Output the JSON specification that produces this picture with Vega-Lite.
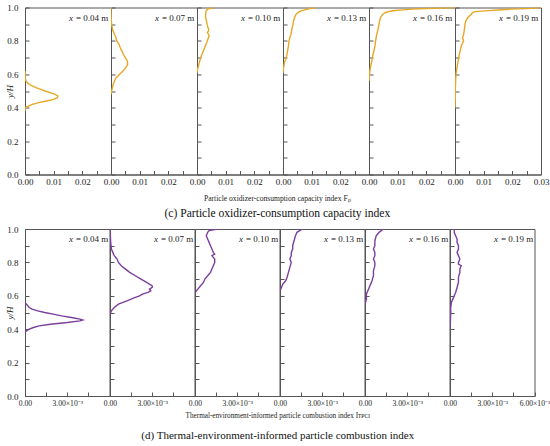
{
  "$schema": "https://vega.github.io/schema/vega-lite/v6.json",
  "autosize": {"type": "pad"},
  "padding": {"left": 5, "top": 2.5, "right": 0, "bottom": 0},
  "spacing": 4.5,
  "config": {
    "font": "Liberation Serif",
    "view": {"stroke": "#555555", "strokeWidth": 1},
    "axis": {
      "grid": false, "domainColor": "#555555", "tickColor": "#555555", "tickSize": -4,
      "labelFont": "Liberation Serif", "labelFontSize": 9, "labelColor": "#222222", "labelPadding": 7,
      "labelOverlap": false, "labelFlush": false, "labelBound": false,
      "titleFont": "Liberation Serif", "titleFontWeight": "normal", "titleColor": "#222222"
    },
    "axisY": {"labelPadding": 11},
    "text": {"font": "Liberation Serif", "fontSize": 9, "color": "#222222", "align": "left", "baseline": "middle"}
  },
  "datasets": {
    "c": [
      {"p": "0.04", "y": 0.38, "v": 0}, {"p": "0.04", "y": 0.40, "v": 0.0001}, {"p": "0.04", "y": 0.41, "v": 0.0012},
      {"p": "0.04", "y": 0.42, "v": 0.0025}, {"p": "0.04", "y": 0.43, "v": 0.0048}, {"p": "0.04", "y": 0.44, "v": 0.0075},
      {"p": "0.04", "y": 0.45, "v": 0.0100}, {"p": "0.04", "y": 0.46, "v": 0.0113}, {"p": "0.04", "y": 0.47, "v": 0.0115},
      {"p": "0.04", "y": 0.48, "v": 0.0105}, {"p": "0.04", "y": 0.49, "v": 0.0088}, {"p": "0.04", "y": 0.50, "v": 0.0070},
      {"p": "0.04", "y": 0.51, "v": 0.0055}, {"p": "0.04", "y": 0.52, "v": 0.0038}, {"p": "0.04", "y": 0.53, "v": 0.0025},
      {"p": "0.04", "y": 0.54, "v": 0.0015}, {"p": "0.04", "y": 0.55, "v": 0.0008}, {"p": "0.04", "y": 0.56, "v": 0.0003},
      {"p": "0.04", "y": 0.58, "v": 0.0001}, {"p": "0.04", "y": 0.62, "v": 0},

      {"p": "0.07", "y": 0.48, "v": 0}, {"p": "0.07", "y": 0.50, "v": 0.0002}, {"p": "0.07", "y": 0.52, "v": 0.0005},
      {"p": "0.07", "y": 0.54, "v": 0.0008}, {"p": "0.07", "y": 0.56, "v": 0.0012}, {"p": "0.07", "y": 0.58, "v": 0.0018},
      {"p": "0.07", "y": 0.60, "v": 0.0030}, {"p": "0.07", "y": 0.62, "v": 0.0042}, {"p": "0.07", "y": 0.64, "v": 0.0052},
      {"p": "0.07", "y": 0.66, "v": 0.0058}, {"p": "0.07", "y": 0.68, "v": 0.0057}, {"p": "0.07", "y": 0.70, "v": 0.0050},
      {"p": "0.07", "y": 0.72, "v": 0.0043}, {"p": "0.07", "y": 0.74, "v": 0.0038}, {"p": "0.07", "y": 0.76, "v": 0.0032},
      {"p": "0.07", "y": 0.78, "v": 0.0028}, {"p": "0.07", "y": 0.80, "v": 0.0020}, {"p": "0.07", "y": 0.82, "v": 0.0017},
      {"p": "0.07", "y": 0.84, "v": 0.0012}, {"p": "0.07", "y": 0.86, "v": 0.0007}, {"p": "0.07", "y": 0.88, "v": 0.0004},
      {"p": "0.07", "y": 0.90, "v": 0.0002}, {"p": "0.07", "y": 0.93, "v": 0.0001}, {"p": "0.07", "y": 0.96, "v": 0},
      {"p": "0.07", "y": 1.00, "v": 0},

      {"p": "0.10", "y": 0.61, "v": 0}, {"p": "0.10", "y": 0.63, "v": 0.0002}, {"p": "0.10", "y": 0.65, "v": 0.0005},
      {"p": "0.10", "y": 0.67, "v": 0.0008}, {"p": "0.10", "y": 0.70, "v": 0.0013}, {"p": "0.10", "y": 0.73, "v": 0.0020},
      {"p": "0.10", "y": 0.76, "v": 0.0027}, {"p": "0.10", "y": 0.79, "v": 0.0034}, {"p": "0.10", "y": 0.81, "v": 0.0038},
      {"p": "0.10", "y": 0.83, "v": 0.0042}, {"p": "0.10", "y": 0.84, "v": 0.0040}, {"p": "0.10", "y": 0.85, "v": 0.0036},
      {"p": "0.10", "y": 0.86, "v": 0.0040}, {"p": "0.10", "y": 0.87, "v": 0.0041}, {"p": "0.10", "y": 0.88, "v": 0.0038},
      {"p": "0.10", "y": 0.90, "v": 0.0035}, {"p": "0.10", "y": 0.92, "v": 0.0033}, {"p": "0.10", "y": 0.94, "v": 0.0030},
      {"p": "0.10", "y": 0.96, "v": 0.0030}, {"p": "0.10", "y": 0.98, "v": 0.0032}, {"p": "0.10", "y": 0.99, "v": 0.0037},
      {"p": "0.10", "y": 1.00, "v": 0.0060},

      {"p": "0.13", "y": 0.61, "v": 0}, {"p": "0.13", "y": 0.63, "v": 0.0001}, {"p": "0.13", "y": 0.65, "v": 0.0003},
      {"p": "0.13", "y": 0.67, "v": 0.0005}, {"p": "0.13", "y": 0.69, "v": 0.0009}, {"p": "0.13", "y": 0.71, "v": 0.0013},
      {"p": "0.13", "y": 0.74, "v": 0.0016}, {"p": "0.13", "y": 0.77, "v": 0.0019}, {"p": "0.13", "y": 0.80, "v": 0.0021},
      {"p": "0.13", "y": 0.82, "v": 0.0024}, {"p": "0.13", "y": 0.84, "v": 0.0028}, {"p": "0.13", "y": 0.86, "v": 0.0030},
      {"p": "0.13", "y": 0.88, "v": 0.0032}, {"p": "0.13", "y": 0.90, "v": 0.0035}, {"p": "0.13", "y": 0.92, "v": 0.0037},
      {"p": "0.13", "y": 0.94, "v": 0.0040}, {"p": "0.13", "y": 0.96, "v": 0.0046}, {"p": "0.13", "y": 0.97, "v": 0.0052},
      {"p": "0.13", "y": 0.98, "v": 0.0063}, {"p": "0.13", "y": 0.99, "v": 0.0085}, {"p": "0.13", "y": 1.00, "v": 0.0113},

      {"p": "0.16", "y": 0.56, "v": 0}, {"p": "0.16", "y": 0.58, "v": 0.0001}, {"p": "0.16", "y": 0.60, "v": 0.0002},
      {"p": "0.16", "y": 0.62, "v": 0.0003}, {"p": "0.16", "y": 0.65, "v": 0.0006}, {"p": "0.16", "y": 0.68, "v": 0.0010},
      {"p": "0.16", "y": 0.71, "v": 0.0013}, {"p": "0.16", "y": 0.74, "v": 0.0017}, {"p": "0.16", "y": 0.77, "v": 0.0021},
      {"p": "0.16", "y": 0.80, "v": 0.0023}, {"p": "0.16", "y": 0.83, "v": 0.0026}, {"p": "0.16", "y": 0.86, "v": 0.0030},
      {"p": "0.16", "y": 0.89, "v": 0.0034}, {"p": "0.16", "y": 0.92, "v": 0.0037}, {"p": "0.16", "y": 0.94, "v": 0.0040},
      {"p": "0.16", "y": 0.96, "v": 0.0048}, {"p": "0.16", "y": 0.97, "v": 0.0058}, {"p": "0.16", "y": 0.976, "v": 0.0070},
      {"p": "0.16", "y": 0.982, "v": 0.0090}, {"p": "0.16", "y": 0.986, "v": 0.0118}, {"p": "0.16", "y": 0.99, "v": 0.0150},
      {"p": "0.16", "y": 0.994, "v": 0.0199}, {"p": "0.16", "y": 0.997, "v": 0.0260}, {"p": "0.16", "y": 1.00, "v": 0.0300},

      {"p": "0.19", "y": 0.40, "v": 0}, {"p": "0.19", "y": 0.45, "v": 0.0001}, {"p": "0.19", "y": 0.50, "v": 0.0001},
      {"p": "0.19", "y": 0.55, "v": 0.0002}, {"p": "0.19", "y": 0.59, "v": 0.0003}, {"p": "0.19", "y": 0.62, "v": 0.0005},
      {"p": "0.19", "y": 0.65, "v": 0.0008}, {"p": "0.19", "y": 0.68, "v": 0.0011}, {"p": "0.19", "y": 0.71, "v": 0.0014},
      {"p": "0.19", "y": 0.74, "v": 0.0018}, {"p": "0.19", "y": 0.77, "v": 0.0022}, {"p": "0.19", "y": 0.79, "v": 0.0027},
      {"p": "0.19", "y": 0.80, "v": 0.0030}, {"p": "0.19", "y": 0.81, "v": 0.0028}, {"p": "0.19", "y": 0.82, "v": 0.0026},
      {"p": "0.19", "y": 0.83, "v": 0.0029}, {"p": "0.19", "y": 0.85, "v": 0.0031}, {"p": "0.19", "y": 0.87, "v": 0.0033},
      {"p": "0.19", "y": 0.90, "v": 0.0035}, {"p": "0.19", "y": 0.92, "v": 0.0038}, {"p": "0.19", "y": 0.94, "v": 0.0045},
      {"p": "0.19", "y": 0.96, "v": 0.0057}, {"p": "0.19", "y": 0.97, "v": 0.0061}, {"p": "0.19", "y": 0.975, "v": 0.0070},
      {"p": "0.19", "y": 0.98, "v": 0.0105}, {"p": "0.19", "y": 0.985, "v": 0.0150}, {"p": "0.19", "y": 0.99, "v": 0.0195},
      {"p": "0.19", "y": 0.995, "v": 0.0270}, {"p": "0.19", "y": 1.00, "v": 0.0300}
    ],
    "d": [
      {"p": "0.04", "y": 0.38, "v": 0}, {"p": "0.04", "y": 0.39, "v": 0.0001}, {"p": "0.04", "y": 0.40, "v": 0.0003},
      {"p": "0.04", "y": 0.41, "v": 0.0006}, {"p": "0.04", "y": 0.42, "v": 0.0010}, {"p": "0.04", "y": 0.43, "v": 0.0018},
      {"p": "0.04", "y": 0.44, "v": 0.0030}, {"p": "0.04", "y": 0.45, "v": 0.0039}, {"p": "0.04", "y": 0.455, "v": 0.0041},
      {"p": "0.04", "y": 0.46, "v": 0.0039}, {"p": "0.04", "y": 0.47, "v": 0.0033}, {"p": "0.04", "y": 0.48, "v": 0.0026},
      {"p": "0.04", "y": 0.49, "v": 0.0020}, {"p": "0.04", "y": 0.50, "v": 0.0014}, {"p": "0.04", "y": 0.51, "v": 0.0009},
      {"p": "0.04", "y": 0.52, "v": 0.0005}, {"p": "0.04", "y": 0.53, "v": 0.0003}, {"p": "0.04", "y": 0.54, "v": 0.0002},
      {"p": "0.04", "y": 0.55, "v": 0.0001}, {"p": "0.04", "y": 0.56, "v": 0},

      {"p": "0.07", "y": 0.49, "v": 0}, {"p": "0.07", "y": 0.51, "v": 0.0001}, {"p": "0.07", "y": 0.53, "v": 0.0003},
      {"p": "0.07", "y": 0.55, "v": 0.0006}, {"p": "0.07", "y": 0.57, "v": 0.0012}, {"p": "0.07", "y": 0.59, "v": 0.0018},
      {"p": "0.07", "y": 0.60, "v": 0.0021}, {"p": "0.07", "y": 0.61, "v": 0.0023}, {"p": "0.07", "y": 0.62, "v": 0.0027},
      {"p": "0.07", "y": 0.63, "v": 0.0029}, {"p": "0.07", "y": 0.64, "v": 0.0028}, {"p": "0.07", "y": 0.65, "v": 0.0030},
      {"p": "0.07", "y": 0.66, "v": 0.0030}, {"p": "0.07", "y": 0.67, "v": 0.0028}, {"p": "0.07", "y": 0.68, "v": 0.0026},
      {"p": "0.07", "y": 0.70, "v": 0.0022}, {"p": "0.07", "y": 0.72, "v": 0.0018}, {"p": "0.07", "y": 0.74, "v": 0.0014},
      {"p": "0.07", "y": 0.76, "v": 0.0011}, {"p": "0.07", "y": 0.78, "v": 0.0008}, {"p": "0.07", "y": 0.80, "v": 0.0006},
      {"p": "0.07", "y": 0.82, "v": 0.0005}, {"p": "0.07", "y": 0.84, "v": 0.0003}, {"p": "0.07", "y": 0.86, "v": 0.0002},
      {"p": "0.07", "y": 0.88, "v": 0.0001}, {"p": "0.07", "y": 0.92, "v": 0.00005}, {"p": "0.07", "y": 1.00, "v": 0},

      {"p": "0.10", "y": 0.62, "v": 0}, {"p": "0.10", "y": 0.64, "v": 0.0002}, {"p": "0.10", "y": 0.66, "v": 0.0004},
      {"p": "0.10", "y": 0.68, "v": 0.0006}, {"p": "0.10", "y": 0.70, "v": 0.0007}, {"p": "0.10", "y": 0.72, "v": 0.0009},
      {"p": "0.10", "y": 0.74, "v": 0.0011}, {"p": "0.10", "y": 0.76, "v": 0.0012}, {"p": "0.10", "y": 0.78, "v": 0.0013},
      {"p": "0.10", "y": 0.80, "v": 0.0014}, {"p": "0.10", "y": 0.82, "v": 0.0014}, {"p": "0.10", "y": 0.83, "v": 0.0013},
      {"p": "0.10", "y": 0.84, "v": 0.0012}, {"p": "0.10", "y": 0.85, "v": 0.0014}, {"p": "0.10", "y": 0.86, "v": 0.0013},
      {"p": "0.10", "y": 0.88, "v": 0.0012}, {"p": "0.10", "y": 0.90, "v": 0.0011}, {"p": "0.10", "y": 0.92, "v": 0.0010},
      {"p": "0.10", "y": 0.94, "v": 0.0009}, {"p": "0.10", "y": 0.96, "v": 0.0008}, {"p": "0.10", "y": 0.98, "v": 0.0009},
      {"p": "0.10", "y": 0.99, "v": 0.0010}, {"p": "0.10", "y": 1.00, "v": 0.0016},

      {"p": "0.13", "y": 0.63, "v": 0}, {"p": "0.13", "y": 0.65, "v": 0.0001}, {"p": "0.13", "y": 0.67, "v": 0.0002},
      {"p": "0.13", "y": 0.69, "v": 0.0004}, {"p": "0.13", "y": 0.71, "v": 0.0005}, {"p": "0.13", "y": 0.74, "v": 0.0006},
      {"p": "0.13", "y": 0.77, "v": 0.0007}, {"p": "0.13", "y": 0.80, "v": 0.0008}, {"p": "0.13", "y": 0.82, "v": 0.0007},
      {"p": "0.13", "y": 0.84, "v": 0.0008}, {"p": "0.13", "y": 0.86, "v": 0.0008}, {"p": "0.13", "y": 0.88, "v": 0.0009},
      {"p": "0.13", "y": 0.90, "v": 0.0009}, {"p": "0.13", "y": 0.93, "v": 0.0010}, {"p": "0.13", "y": 0.96, "v": 0.0011},
      {"p": "0.13", "y": 0.98, "v": 0.0012}, {"p": "0.13", "y": 1.00, "v": 0.0016},

      {"p": "0.16", "y": 0.55, "v": 0}, {"p": "0.16", "y": 0.58, "v": 0.0001}, {"p": "0.16", "y": 0.61, "v": 0.0001},
      {"p": "0.16", "y": 0.63, "v": 0.0002}, {"p": "0.16", "y": 0.65, "v": 0.0003}, {"p": "0.16", "y": 0.67, "v": 0.0004},
      {"p": "0.16", "y": 0.69, "v": 0.0005}, {"p": "0.16", "y": 0.72, "v": 0.0006}, {"p": "0.16", "y": 0.75, "v": 0.0006},
      {"p": "0.16", "y": 0.78, "v": 0.0007}, {"p": "0.16", "y": 0.80, "v": 0.0007}, {"p": "0.16", "y": 0.82, "v": 0.0006},
      {"p": "0.16", "y": 0.84, "v": 0.0007}, {"p": "0.16", "y": 0.86, "v": 0.0007}, {"p": "0.16", "y": 0.88, "v": 0.0006},
      {"p": "0.16", "y": 0.90, "v": 0.0007}, {"p": "0.16", "y": 0.93, "v": 0.0007}, {"p": "0.16", "y": 0.96, "v": 0.0008},
      {"p": "0.16", "y": 0.98, "v": 0.0010}, {"p": "0.16", "y": 1.00, "v": 0.0013},

      {"p": "0.19", "y": 0.40, "v": 0}, {"p": "0.19", "y": 0.45, "v": 0.00003}, {"p": "0.19", "y": 0.50, "v": 0.00005},
      {"p": "0.19", "y": 0.53, "v": 0.00005}, {"p": "0.19", "y": 0.56, "v": 0.0001}, {"p": "0.19", "y": 0.58, "v": 0.0002},
      {"p": "0.19", "y": 0.60, "v": 0.0003}, {"p": "0.19", "y": 0.62, "v": 0.0004}, {"p": "0.19", "y": 0.65, "v": 0.0005},
      {"p": "0.19", "y": 0.68, "v": 0.0006}, {"p": "0.19", "y": 0.71, "v": 0.0006}, {"p": "0.19", "y": 0.74, "v": 0.0007},
      {"p": "0.19", "y": 0.76, "v": 0.0007}, {"p": "0.19", "y": 0.78, "v": 0.0008}, {"p": "0.19", "y": 0.79, "v": 0.0006},
      {"p": "0.19", "y": 0.80, "v": 0.0006}, {"p": "0.19", "y": 0.82, "v": 0.0007}, {"p": "0.19", "y": 0.84, "v": 0.0006},
      {"p": "0.19", "y": 0.86, "v": 0.0005}, {"p": "0.19", "y": 0.88, "v": 0.0006}, {"p": "0.19", "y": 0.90, "v": 0.0006},
      {"p": "0.19", "y": 0.92, "v": 0.0005}, {"p": "0.19", "y": 0.94, "v": 0.0005}, {"p": "0.19", "y": 0.96, "v": 0.0004},
      {"p": "0.19", "y": 0.98, "v": 0.0003}, {"p": "0.19", "y": 1.00, "v": 0.0003}
    ]
  },
  "vconcat": [
    {
      "title": {
        "text": "Particle oxidizer-consumption capacity index Fₚ", "orient": "bottom", "anchor": "middle",
        "font": "Liberation Serif", "fontSize": 7.6, "fontWeight": "normal", "color": "#222222", "offset": 8,
        "subtitle": "(c) Particle oxidizer-consumption capacity index", "subtitleFont": "Liberation Serif",
        "subtitleFontSize": 11.6, "subtitleColor": "#111111", "subtitlePadding": 5
      },
      "spacing": 0,
      "bounds": "flush",
      "hconcat": [
        {
          "width": 86, "height": 167,
          "resolve": {"axis": {"x": "independent", "y": "independent"}},
          "layer": [
            {
              "data": {"name": "c"}, "transform": [{"filter": "datum.p == '0.04'"}],
              "mark": {"type": "line", "color": "#E6A823", "strokeWidth": 1.4, "clip": true},
              "encoding": {
                "x": {"field": "v", "type": "quantitative", "scale": {"domain": [0, 0.03], "nice": false},
                  "axis": {"orient": "bottom", "title": null, "values": [0, 0.01, 0.02], "format": ".2f"}},
                "y": {"field": "y", "type": "quantitative", "scale": {"domain": [0, 1], "nice": false},
                  "axis": {"orient": "left", "title": "y/H", "titleFontStyle": "italic", "titleFontSize": 9, "titlePadding": -8, "values": [0, 0.2, 0.4, 0.6, 0.8, 1], "format": ".1f"}},
                "order": {"field": "y", "type": "quantitative"}
              }
            },
            {"data": {"values": [{"t": "= 0.04 m"}]}, "mark": {"type": "text", "fontStyle": "italic"},
              "encoding": {
                "x": {"datum": 0.01535, "axis": {"orient": "bottom", "title": null, "labels": false, "domain": false, "values": [0.005, 0.015, 0.025]}},
                "y": {"datum": 0.94, "axis": {"orient": "left", "title": null, "labels": false, "domain": false, "values": [0.1, 0.3, 0.5, 0.7, 0.9]}},
                "text": {"value": "x"}}},
            {"data": {"values": [{"t": "= 0.04 m"}]}, "mark": {"type": "text", "dx": 7}, "encoding": {"x": {"datum": 0.01535, "axis": null}, "y": {"datum": 0.94, "axis": null}, "text": {"field": "t"}}}
          ]
        },
        {
          "width": 86, "height": 167,
          "resolve": {"axis": {"x": "independent", "y": "independent"}},
          "layer": [
            {
              "data": {"name": "c"}, "transform": [{"filter": "datum.p == '0.07'"}],
              "mark": {"type": "line", "color": "#E6A823", "strokeWidth": 1.4, "clip": true},
              "encoding": {
                "x": {"field": "v", "type": "quantitative", "scale": {"domain": [0, 0.03], "nice": false},
                  "axis": {"orient": "bottom", "title": null, "values": [0, 0.01, 0.02], "format": ".2f"}},
                "y": {"field": "y", "type": "quantitative", "scale": {"domain": [0, 1], "nice": false},
                  "axis": {"orient": "left", "title": null, "labels": false, "values": [0, 0.2, 0.4, 0.6, 0.8, 1]}},
                "order": {"field": "y", "type": "quantitative"}
              }
            },
            {"data": {"values": [{"t": "= 0.07 m"}]}, "mark": {"type": "text", "fontStyle": "italic"},
              "encoding": {
                "x": {"datum": 0.01535, "axis": {"orient": "bottom", "title": null, "labels": false, "domain": false, "values": [0.005, 0.015, 0.025]}},
                "y": {"datum": 0.94, "axis": {"orient": "left", "title": null, "labels": false, "domain": false, "values": [0.1, 0.3, 0.5, 0.7, 0.9]}},
                "text": {"value": "x"}}},
            {"data": {"values": [{"t": "= 0.07 m"}]}, "mark": {"type": "text", "dx": 7}, "encoding": {"x": {"datum": 0.01535, "axis": null}, "y": {"datum": 0.94, "axis": null}, "text": {"field": "t"}}}
          ]
        },
        {
          "width": 86, "height": 167,
          "resolve": {"axis": {"x": "independent", "y": "independent"}},
          "layer": [
            {
              "data": {"name": "c"}, "transform": [{"filter": "datum.p == '0.10'"}],
              "mark": {"type": "line", "color": "#E6A823", "strokeWidth": 1.4, "clip": true},
              "encoding": {
                "x": {"field": "v", "type": "quantitative", "scale": {"domain": [0, 0.03], "nice": false},
                  "axis": {"orient": "bottom", "title": null, "values": [0, 0.01, 0.02], "format": ".2f"}},
                "y": {"field": "y", "type": "quantitative", "scale": {"domain": [0, 1], "nice": false},
                  "axis": {"orient": "left", "title": null, "labels": false, "values": [0, 0.2, 0.4, 0.6, 0.8, 1]}},
                "order": {"field": "y", "type": "quantitative"}
              }
            },
            {"data": {"values": [{"t": "= 0.10 m"}]}, "mark": {"type": "text", "fontStyle": "italic"},
              "encoding": {
                "x": {"datum": 0.01535, "axis": {"orient": "bottom", "title": null, "labels": false, "domain": false, "values": [0.005, 0.015, 0.025]}},
                "y": {"datum": 0.94, "axis": {"orient": "left", "title": null, "labels": false, "domain": false, "values": [0.1, 0.3, 0.5, 0.7, 0.9]}},
                "text": {"value": "x"}}},
            {"data": {"values": [{"t": "= 0.10 m"}]}, "mark": {"type": "text", "dx": 7}, "encoding": {"x": {"datum": 0.01535, "axis": null}, "y": {"datum": 0.94, "axis": null}, "text": {"field": "t"}}}
          ]
        },
        {
          "width": 86, "height": 167,
          "resolve": {"axis": {"x": "independent", "y": "independent"}},
          "layer": [
            {
              "data": {"name": "c"}, "transform": [{"filter": "datum.p == '0.13'"}],
              "mark": {"type": "line", "color": "#E6A823", "strokeWidth": 1.4, "clip": true},
              "encoding": {
                "x": {"field": "v", "type": "quantitative", "scale": {"domain": [0, 0.03], "nice": false},
                  "axis": {"orient": "bottom", "title": null, "values": [0, 0.01, 0.02], "format": ".2f"}},
                "y": {"field": "y", "type": "quantitative", "scale": {"domain": [0, 1], "nice": false},
                  "axis": {"orient": "left", "title": null, "labels": false, "values": [0, 0.2, 0.4, 0.6, 0.8, 1]}},
                "order": {"field": "y", "type": "quantitative"}
              }
            },
            {"data": {"values": [{"t": "= 0.13 m"}]}, "mark": {"type": "text", "fontStyle": "italic"},
              "encoding": {
                "x": {"datum": 0.01535, "axis": {"orient": "bottom", "title": null, "labels": false, "domain": false, "values": [0.005, 0.015, 0.025]}},
                "y": {"datum": 0.94, "axis": {"orient": "left", "title": null, "labels": false, "domain": false, "values": [0.1, 0.3, 0.5, 0.7, 0.9]}},
                "text": {"value": "x"}}},
            {"data": {"values": [{"t": "= 0.13 m"}]}, "mark": {"type": "text", "dx": 7}, "encoding": {"x": {"datum": 0.01535, "axis": null}, "y": {"datum": 0.94, "axis": null}, "text": {"field": "t"}}}
          ]
        },
        {
          "width": 86, "height": 167,
          "resolve": {"axis": {"x": "independent", "y": "independent"}},
          "layer": [
            {
              "data": {"name": "c"}, "transform": [{"filter": "datum.p == '0.16'"}],
              "mark": {"type": "line", "color": "#E6A823", "strokeWidth": 1.4, "clip": true},
              "encoding": {
                "x": {"field": "v", "type": "quantitative", "scale": {"domain": [0, 0.03], "nice": false},
                  "axis": {"orient": "bottom", "title": null, "values": [0, 0.01, 0.02], "format": ".2f"}},
                "y": {"field": "y", "type": "quantitative", "scale": {"domain": [0, 1], "nice": false},
                  "axis": {"orient": "left", "title": null, "labels": false, "values": [0, 0.2, 0.4, 0.6, 0.8, 1]}},
                "order": {"field": "y", "type": "quantitative"}
              }
            },
            {"data": {"values": [{"t": "= 0.16 m"}]}, "mark": {"type": "text", "fontStyle": "italic"},
              "encoding": {
                "x": {"datum": 0.01535, "axis": {"orient": "bottom", "title": null, "labels": false, "domain": false, "values": [0.005, 0.015, 0.025]}},
                "y": {"datum": 0.94, "axis": {"orient": "left", "title": null, "labels": false, "domain": false, "values": [0.1, 0.3, 0.5, 0.7, 0.9]}},
                "text": {"value": "x"}}},
            {"data": {"values": [{"t": "= 0.16 m"}]}, "mark": {"type": "text", "dx": 7}, "encoding": {"x": {"datum": 0.01535, "axis": null}, "y": {"datum": 0.94, "axis": null}, "text": {"field": "t"}}}
          ]
        },
        {
          "width": 86, "height": 167,
          "resolve": {"axis": {"x": "independent", "y": "independent"}},
          "layer": [
            {
              "data": {"name": "c"}, "transform": [{"filter": "datum.p == '0.19'"}],
              "mark": {"type": "line", "color": "#E6A823", "strokeWidth": 1.4, "clip": true},
              "encoding": {
                "x": {"field": "v", "type": "quantitative", "scale": {"domain": [0, 0.03], "nice": false},
                  "axis": {"orient": "bottom", "title": null, "values": [0, 0.01, 0.02, 0.03], "format": ".2f"}},
                "y": {"field": "y", "type": "quantitative", "scale": {"domain": [0, 1], "nice": false},
                  "axis": {"orient": "left", "title": null, "labels": false, "values": [0, 0.2, 0.4, 0.6, 0.8, 1]}},
                "order": {"field": "y", "type": "quantitative"}
              }
            },
            {"data": {"values": [{"t": "= 0.19 m"}]}, "mark": {"type": "text", "fontStyle": "italic"},
              "encoding": {
                "x": {"datum": 0.01535, "axis": {"orient": "bottom", "title": null, "labels": false, "domain": false, "values": [0.005, 0.015, 0.025]}},
                "y": {"datum": 0.94, "axis": {"orient": "left", "title": null, "labels": false, "domain": false, "values": [0.1, 0.3, 0.5, 0.7, 0.9]}},
                "text": {"value": "x"}}},
            {"data": {"values": [{"t": "= 0.19 m"}]}, "mark": {"type": "text", "dx": 7}, "encoding": {"x": {"datum": 0.01535, "axis": null}, "y": {"datum": 0.94, "axis": null}, "text": {"field": "t"}}}
          ]
        }
      ]
    },
    {
      "title": {
        "text": "Thermal-environment-informed particle combustion index Iᴛᴘᴄɪ", "orient": "bottom", "anchor": "middle",
        "font": "Liberation Serif", "fontSize": 7.2, "fontWeight": "normal", "color": "#222222", "offset": 5,
        "subtitle": "(d) Thermal-environment-informed particle combustion index", "subtitleFont": "Liberation Serif",
        "subtitleFontSize": 11, "subtitleColor": "#111111", "subtitlePadding": 11
      },
      "spacing": 0,
      "bounds": "flush",
      "hconcat": [
        {
          "width": 84.5, "height": 167,
          "resolve": {"axis": {"x": "independent", "y": "independent"}},
          "layer": [
            {
              "data": {"name": "d"}, "transform": [{"filter": "datum.p == '0.04'"}],
              "mark": {"type": "line", "color": "#7B3F9E", "strokeWidth": 1.4, "clip": true},
              "encoding": {
                "x": {"field": "v", "type": "quantitative", "scale": {"domain": [0, 0.006], "nice": false},
                  "axis": {"orient": "bottom", "title": null, "labelFontSize": 7.6, "values": [0, 0.003], "labelExpr": "datum.value == 0 ? '0.00' : '3.00×10⁻³'"}},
                "y": {"field": "y", "type": "quantitative", "scale": {"domain": [0, 1], "nice": false},
                  "axis": {"orient": "left", "title": "y/H", "titleFontStyle": "italic", "titleFontSize": 9, "titlePadding": -8, "values": [0, 0.2, 0.4, 0.6, 0.8, 1], "format": ".1f"}},
                "order": {"field": "y", "type": "quantitative"}
              }
            },
            {"data": {"values": [{"t": "= 0.04 m"}]}, "mark": {"type": "text", "fontStyle": "italic"},
              "encoding": {
                "x": {"datum": 0.00312, "axis": {"orient": "bottom", "title": null, "labels": false, "domain": false, "values": [0.0015, 0.0045]}},
                "y": {"datum": 0.94, "axis": {"orient": "left", "title": null, "labels": false, "domain": false, "values": [0.1, 0.3, 0.5, 0.7, 0.9]}},
                "text": {"value": "x"}}},
            {"data": {"values": [{"t": "= 0.04 m"}]}, "mark": {"type": "text", "dx": 7}, "encoding": {"x": {"datum": 0.00312, "axis": null}, "y": {"datum": 0.94, "axis": null}, "text": {"field": "t"}}}
          ]
        },
        {
          "width": 84.5, "height": 167,
          "resolve": {"axis": {"x": "independent", "y": "independent"}},
          "layer": [
            {
              "data": {"name": "d"}, "transform": [{"filter": "datum.p == '0.07'"}],
              "mark": {"type": "line", "color": "#7B3F9E", "strokeWidth": 1.4, "clip": true},
              "encoding": {
                "x": {"field": "v", "type": "quantitative", "scale": {"domain": [0, 0.006], "nice": false},
                  "axis": {"orient": "bottom", "title": null, "labelFontSize": 7.6, "values": [0, 0.003], "labelExpr": "datum.value == 0 ? '0.00' : '3.00×10⁻³'"}},
                "y": {"field": "y", "type": "quantitative", "scale": {"domain": [0, 1], "nice": false},
                  "axis": {"orient": "left", "title": null, "labels": false, "values": [0, 0.2, 0.4, 0.6, 0.8, 1]}},
                "order": {"field": "y", "type": "quantitative"}
              }
            },
            {"data": {"values": [{"t": "= 0.07 m"}]}, "mark": {"type": "text", "fontStyle": "italic"},
              "encoding": {
                "x": {"datum": 0.00312, "axis": {"orient": "bottom", "title": null, "labels": false, "domain": false, "values": [0.0015, 0.0045]}},
                "y": {"datum": 0.94, "axis": {"orient": "left", "title": null, "labels": false, "domain": false, "values": [0.1, 0.3, 0.5, 0.7, 0.9]}},
                "text": {"value": "x"}}},
            {"data": {"values": [{"t": "= 0.07 m"}]}, "mark": {"type": "text", "dx": 7}, "encoding": {"x": {"datum": 0.00312, "axis": null}, "y": {"datum": 0.94, "axis": null}, "text": {"field": "t"}}}
          ]
        },
        {
          "width": 84.5, "height": 167,
          "resolve": {"axis": {"x": "independent", "y": "independent"}},
          "layer": [
            {
              "data": {"name": "d"}, "transform": [{"filter": "datum.p == '0.10'"}],
              "mark": {"type": "line", "color": "#7B3F9E", "strokeWidth": 1.4, "clip": true},
              "encoding": {
                "x": {"field": "v", "type": "quantitative", "scale": {"domain": [0, 0.006], "nice": false},
                  "axis": {"orient": "bottom", "title": null, "labelFontSize": 7.6, "values": [0, 0.003], "labelExpr": "datum.value == 0 ? '0.00' : '3.00×10⁻³'"}},
                "y": {"field": "y", "type": "quantitative", "scale": {"domain": [0, 1], "nice": false},
                  "axis": {"orient": "left", "title": null, "labels": false, "values": [0, 0.2, 0.4, 0.6, 0.8, 1]}},
                "order": {"field": "y", "type": "quantitative"}
              }
            },
            {"data": {"values": [{"t": "= 0.10 m"}]}, "mark": {"type": "text", "fontStyle": "italic"},
              "encoding": {
                "x": {"datum": 0.00312, "axis": {"orient": "bottom", "title": null, "labels": false, "domain": false, "values": [0.0015, 0.0045]}},
                "y": {"datum": 0.94, "axis": {"orient": "left", "title": null, "labels": false, "domain": false, "values": [0.1, 0.3, 0.5, 0.7, 0.9]}},
                "text": {"value": "x"}}},
            {"data": {"values": [{"t": "= 0.10 m"}]}, "mark": {"type": "text", "dx": 7}, "encoding": {"x": {"datum": 0.00312, "axis": null}, "y": {"datum": 0.94, "axis": null}, "text": {"field": "t"}}}
          ]
        },
        {
          "width": 84.5, "height": 167,
          "resolve": {"axis": {"x": "independent", "y": "independent"}},
          "layer": [
            {
              "data": {"name": "d"}, "transform": [{"filter": "datum.p == '0.13'"}],
              "mark": {"type": "line", "color": "#7B3F9E", "strokeWidth": 1.4, "clip": true},
              "encoding": {
                "x": {"field": "v", "type": "quantitative", "scale": {"domain": [0, 0.006], "nice": false},
                  "axis": {"orient": "bottom", "title": null, "labelFontSize": 7.6, "values": [0, 0.003], "labelExpr": "datum.value == 0 ? '0.00' : '3.00×10⁻³'"}},
                "y": {"field": "y", "type": "quantitative", "scale": {"domain": [0, 1], "nice": false},
                  "axis": {"orient": "left", "title": null, "labels": false, "values": [0, 0.2, 0.4, 0.6, 0.8, 1]}},
                "order": {"field": "y", "type": "quantitative"}
              }
            },
            {"data": {"values": [{"t": "= 0.13 m"}]}, "mark": {"type": "text", "fontStyle": "italic"},
              "encoding": {
                "x": {"datum": 0.00312, "axis": {"orient": "bottom", "title": null, "labels": false, "domain": false, "values": [0.0015, 0.0045]}},
                "y": {"datum": 0.94, "axis": {"orient": "left", "title": null, "labels": false, "domain": false, "values": [0.1, 0.3, 0.5, 0.7, 0.9]}},
                "text": {"value": "x"}}},
            {"data": {"values": [{"t": "= 0.13 m"}]}, "mark": {"type": "text", "dx": 7}, "encoding": {"x": {"datum": 0.00312, "axis": null}, "y": {"datum": 0.94, "axis": null}, "text": {"field": "t"}}}
          ]
        },
        {
          "width": 84.5, "height": 167,
          "resolve": {"axis": {"x": "independent", "y": "independent"}},
          "layer": [
            {
              "data": {"name": "d"}, "transform": [{"filter": "datum.p == '0.16'"}],
              "mark": {"type": "line", "color": "#7B3F9E", "strokeWidth": 1.4, "clip": true},
              "encoding": {
                "x": {"field": "v", "type": "quantitative", "scale": {"domain": [0, 0.006], "nice": false},
                  "axis": {"orient": "bottom", "title": null, "labelFontSize": 7.6, "values": [0, 0.003], "labelExpr": "datum.value == 0 ? '0.00' : '3.00×10⁻³'"}},
                "y": {"field": "y", "type": "quantitative", "scale": {"domain": [0, 1], "nice": false},
                  "axis": {"orient": "left", "title": null, "labels": false, "values": [0, 0.2, 0.4, 0.6, 0.8, 1]}},
                "order": {"field": "y", "type": "quantitative"}
              }
            },
            {"data": {"values": [{"t": "= 0.16 m"}]}, "mark": {"type": "text", "fontStyle": "italic"},
              "encoding": {
                "x": {"datum": 0.00312, "axis": {"orient": "bottom", "title": null, "labels": false, "domain": false, "values": [0.0015, 0.0045]}},
                "y": {"datum": 0.94, "axis": {"orient": "left", "title": null, "labels": false, "domain": false, "values": [0.1, 0.3, 0.5, 0.7, 0.9]}},
                "text": {"value": "x"}}},
            {"data": {"values": [{"t": "= 0.16 m"}]}, "mark": {"type": "text", "dx": 7}, "encoding": {"x": {"datum": 0.00312, "axis": null}, "y": {"datum": 0.94, "axis": null}, "text": {"field": "t"}}}
          ]
        },
        {
          "width": 84.5, "height": 167,
          "resolve": {"axis": {"x": "independent", "y": "independent"}},
          "layer": [
            {
              "data": {"name": "d"}, "transform": [{"filter": "datum.p == '0.19'"}],
              "mark": {"type": "line", "color": "#7B3F9E", "strokeWidth": 1.4, "clip": true},
              "encoding": {
                "x": {"field": "v", "type": "quantitative", "scale": {"domain": [0, 0.006], "nice": false},
                  "axis": {"orient": "bottom", "title": null, "labelFontSize": 7.6, "values": [0, 0.003, 0.006], "labelExpr": "datum.value == 0 ? '0.00' : datum.value < 0.004 ? '3.00×10⁻³' : '6.00×10⁻³'"}},
                "y": {"field": "y", "type": "quantitative", "scale": {"domain": [0, 1], "nice": false},
                  "axis": {"orient": "left", "title": null, "labels": false, "values": [0, 0.2, 0.4, 0.6, 0.8, 1]}},
                "order": {"field": "y", "type": "quantitative"}
              }
            },
            {"data": {"values": [{"t": "= 0.19 m"}]}, "mark": {"type": "text", "fontStyle": "italic"},
              "encoding": {
                "x": {"datum": 0.00312, "axis": {"orient": "bottom", "title": null, "labels": false, "domain": false, "values": [0.0015, 0.0045]}},
                "y": {"datum": 0.94, "axis": {"orient": "left", "title": null, "labels": false, "domain": false, "values": [0.1, 0.3, 0.5, 0.7, 0.9]}},
                "text": {"value": "x"}}},
            {"data": {"values": [{"t": "= 0.19 m"}]}, "mark": {"type": "text", "dx": 7}, "encoding": {"x": {"datum": 0.00312, "axis": null}, "y": {"datum": 0.94, "axis": null}, "text": {"field": "t"}}}
          ]
        }
      ]
    }
  ]
}
